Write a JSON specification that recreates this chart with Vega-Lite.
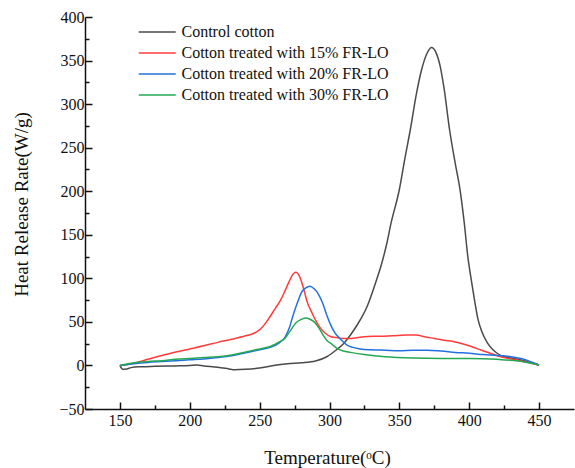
{
  "$schema": "https://vega.github.io/schema/vega-lite/v6.json",
  "width": 489,
  "height": 392,
  "autosize": "none",
  "padding": {"left": 85, "top": 17, "right": 1, "bottom": 59},
  "background": "white",
  "config": {"view": {"stroke": null}, "font": "Liberation Serif"},
  "data": {"values": [
    {"s":"Control cotton","t":150,"v":0},{"s":"Control cotton","t":152,"v":-4.5},{"s":"Control cotton","t":155,"v":-4},{"s":"Control cotton","t":158,"v":-2.5},{"s":"Control cotton","t":165,"v":-1.5},{"s":"Control cotton","t":175,"v":-1},{"s":"Control cotton","t":190,"v":-0.5},{"s":"Control cotton","t":200,"v":0},{"s":"Control cotton","t":205,"v":0.5},{"s":"Control cotton","t":210,"v":-0.5},{"s":"Control cotton","t":220,"v":-2},{"s":"Control cotton","t":228,"v":-4},{"s":"Control cotton","t":232,"v":-5},{"s":"Control cotton","t":240,"v":-4.5},{"s":"Control cotton","t":250,"v":-3},{"s":"Control cotton","t":260,"v":0},{"s":"Control cotton","t":270,"v":2},{"s":"Control cotton","t":280,"v":3},{"s":"Control cotton","t":290,"v":5},{"s":"Control cotton","t":298,"v":10},{"s":"Control cotton","t":305,"v":18},{"s":"Control cotton","t":310,"v":25},{"s":"Control cotton","t":315,"v":35},{"s":"Control cotton","t":320,"v":47},{"s":"Control cotton","t":327,"v":68},{"s":"Control cotton","t":333,"v":95},{"s":"Control cotton","t":337,"v":115},{"s":"Control cotton","t":341,"v":140},{"s":"Control cotton","t":344,"v":163},{"s":"Control cotton","t":350,"v":202},{"s":"Control cotton","t":354,"v":238},{"s":"Control cotton","t":358,"v":272},{"s":"Control cotton","t":362,"v":310},{"s":"Control cotton","t":366,"v":340},{"s":"Control cotton","t":370,"v":359},{"s":"Control cotton","t":373,"v":365},{"s":"Control cotton","t":376,"v":360},{"s":"Control cotton","t":379,"v":345},{"s":"Control cotton","t":382,"v":318},{"s":"Control cotton","t":386,"v":270},{"s":"Control cotton","t":390,"v":232},{"s":"Control cotton","t":393.5,"v":201},{"s":"Control cotton","t":396.5,"v":163},{"s":"Control cotton","t":399,"v":125},{"s":"Control cotton","t":401.5,"v":98},{"s":"Control cotton","t":404,"v":73},{"s":"Control cotton","t":406,"v":55},{"s":"Control cotton","t":409,"v":39},{"s":"Control cotton","t":413,"v":26},{"s":"Control cotton","t":417,"v":18},{"s":"Control cotton","t":420,"v":14},{"s":"Control cotton","t":425,"v":10},{"s":"Control cotton","t":430,"v":8.5},{"s":"Control cotton","t":435,"v":7},{"s":"Control cotton","t":440,"v":5},{"s":"Control cotton","t":445,"v":3},{"s":"Control cotton","t":450,"v":0.5},

    {"s":"Cotton treated with 15% FR-LO","t":150,"v":0},{"s":"Cotton treated with 15% FR-LO","t":155,"v":1},{"s":"Cotton treated with 15% FR-LO","t":160,"v":2.5},{"s":"Cotton treated with 15% FR-LO","t":170,"v":7},{"s":"Cotton treated with 15% FR-LO","t":180,"v":11.5},{"s":"Cotton treated with 15% FR-LO","t":190,"v":15.5},{"s":"Cotton treated with 15% FR-LO","t":200,"v":19},{"s":"Cotton treated with 15% FR-LO","t":210,"v":22.5},{"s":"Cotton treated with 15% FR-LO","t":220,"v":26.5},{"s":"Cotton treated with 15% FR-LO","t":230,"v":30},{"s":"Cotton treated with 15% FR-LO","t":240,"v":34},{"s":"Cotton treated with 15% FR-LO","t":246,"v":37},{"s":"Cotton treated with 15% FR-LO","t":250,"v":41},{"s":"Cotton treated with 15% FR-LO","t":253,"v":46},{"s":"Cotton treated with 15% FR-LO","t":257,"v":55},{"s":"Cotton treated with 15% FR-LO","t":261,"v":65},{"s":"Cotton treated with 15% FR-LO","t":265,"v":75},{"s":"Cotton treated with 15% FR-LO","t":268,"v":85},{"s":"Cotton treated with 15% FR-LO","t":271,"v":96},{"s":"Cotton treated with 15% FR-LO","t":274,"v":105},{"s":"Cotton treated with 15% FR-LO","t":276,"v":107},{"s":"Cotton treated with 15% FR-LO","t":278,"v":104},{"s":"Cotton treated with 15% FR-LO","t":280,"v":96},{"s":"Cotton treated with 15% FR-LO","t":282,"v":85},{"s":"Cotton treated with 15% FR-LO","t":284,"v":73},{"s":"Cotton treated with 15% FR-LO","t":287,"v":62},{"s":"Cotton treated with 15% FR-LO","t":290,"v":52},{"s":"Cotton treated with 15% FR-LO","t":293,"v":44},{"s":"Cotton treated with 15% FR-LO","t":297,"v":37},{"s":"Cotton treated with 15% FR-LO","t":301,"v":33},{"s":"Cotton treated with 15% FR-LO","t":305,"v":32},{"s":"Cotton treated with 15% FR-LO","t":310,"v":31},{"s":"Cotton treated with 15% FR-LO","t":315,"v":31},{"s":"Cotton treated with 15% FR-LO","t":325,"v":33},{"s":"Cotton treated with 15% FR-LO","t":335,"v":33.5},{"s":"Cotton treated with 15% FR-LO","t":345,"v":34},{"s":"Cotton treated with 15% FR-LO","t":355,"v":35},{"s":"Cotton treated with 15% FR-LO","t":362,"v":35},{"s":"Cotton treated with 15% FR-LO","t":368,"v":33},{"s":"Cotton treated with 15% FR-LO","t":375,"v":31},{"s":"Cotton treated with 15% FR-LO","t":382,"v":29},{"s":"Cotton treated with 15% FR-LO","t":390,"v":27},{"s":"Cotton treated with 15% FR-LO","t":395,"v":25},{"s":"Cotton treated with 15% FR-LO","t":401,"v":22},{"s":"Cotton treated with 15% FR-LO","t":408,"v":18},{"s":"Cotton treated with 15% FR-LO","t":415,"v":14},{"s":"Cotton treated with 15% FR-LO","t":425,"v":9},{"s":"Cotton treated with 15% FR-LO","t":435,"v":6},{"s":"Cotton treated with 15% FR-LO","t":442,"v":3.5},{"s":"Cotton treated with 15% FR-LO","t":450,"v":0},

    {"s":"Cotton treated with 20% FR-LO","t":150,"v":0},{"s":"Cotton treated with 20% FR-LO","t":160,"v":2},{"s":"Cotton treated with 20% FR-LO","t":170,"v":3.5},{"s":"Cotton treated with 20% FR-LO","t":180,"v":4.5},{"s":"Cotton treated with 20% FR-LO","t":190,"v":5.5},{"s":"Cotton treated with 20% FR-LO","t":200,"v":6.5},{"s":"Cotton treated with 20% FR-LO","t":210,"v":7.5},{"s":"Cotton treated with 20% FR-LO","t":220,"v":9},{"s":"Cotton treated with 20% FR-LO","t":230,"v":11},{"s":"Cotton treated with 20% FR-LO","t":240,"v":14.5},{"s":"Cotton treated with 20% FR-LO","t":250,"v":18},{"s":"Cotton treated with 20% FR-LO","t":258,"v":21},{"s":"Cotton treated with 20% FR-LO","t":264,"v":26},{"s":"Cotton treated with 20% FR-LO","t":268,"v":32},{"s":"Cotton treated with 20% FR-LO","t":271,"v":42},{"s":"Cotton treated with 20% FR-LO","t":274,"v":58},{"s":"Cotton treated with 20% FR-LO","t":277,"v":72},{"s":"Cotton treated with 20% FR-LO","t":280,"v":84},{"s":"Cotton treated with 20% FR-LO","t":283,"v":89},{"s":"Cotton treated with 20% FR-LO","t":286,"v":91},{"s":"Cotton treated with 20% FR-LO","t":289,"v":88},{"s":"Cotton treated with 20% FR-LO","t":292,"v":82},{"s":"Cotton treated with 20% FR-LO","t":295,"v":72},{"s":"Cotton treated with 20% FR-LO","t":298,"v":58},{"s":"Cotton treated with 20% FR-LO","t":301,"v":46},{"s":"Cotton treated with 20% FR-LO","t":304,"v":37},{"s":"Cotton treated with 20% FR-LO","t":308,"v":30},{"s":"Cotton treated with 20% FR-LO","t":312,"v":24},{"s":"Cotton treated with 20% FR-LO","t":316,"v":21},{"s":"Cotton treated with 20% FR-LO","t":322,"v":19},{"s":"Cotton treated with 20% FR-LO","t":330,"v":18},{"s":"Cotton treated with 20% FR-LO","t":340,"v":17.5},{"s":"Cotton treated with 20% FR-LO","t":350,"v":17},{"s":"Cotton treated with 20% FR-LO","t":360,"v":17.5},{"s":"Cotton treated with 20% FR-LO","t":370,"v":17.5},{"s":"Cotton treated with 20% FR-LO","t":380,"v":16.5},{"s":"Cotton treated with 20% FR-LO","t":390,"v":15},{"s":"Cotton treated with 20% FR-LO","t":400,"v":14},{"s":"Cotton treated with 20% FR-LO","t":410,"v":12.5},{"s":"Cotton treated with 20% FR-LO","t":420,"v":11.5},{"s":"Cotton treated with 20% FR-LO","t":430,"v":10},{"s":"Cotton treated with 20% FR-LO","t":437,"v":8},{"s":"Cotton treated with 20% FR-LO","t":443,"v":5},{"s":"Cotton treated with 20% FR-LO","t":450,"v":0.5},

    {"s":"Cotton treated with 30% FR-LO","t":150,"v":0},{"s":"Cotton treated with 30% FR-LO","t":160,"v":3},{"s":"Cotton treated with 30% FR-LO","t":170,"v":4.5},{"s":"Cotton treated with 30% FR-LO","t":180,"v":5.5},{"s":"Cotton treated with 30% FR-LO","t":190,"v":7},{"s":"Cotton treated with 30% FR-LO","t":200,"v":8},{"s":"Cotton treated with 30% FR-LO","t":210,"v":9},{"s":"Cotton treated with 30% FR-LO","t":220,"v":10},{"s":"Cotton treated with 30% FR-LO","t":230,"v":12},{"s":"Cotton treated with 30% FR-LO","t":240,"v":15.5},{"s":"Cotton treated with 30% FR-LO","t":250,"v":19},{"s":"Cotton treated with 30% FR-LO","t":258,"v":22},{"s":"Cotton treated with 30% FR-LO","t":264,"v":27},{"s":"Cotton treated with 30% FR-LO","t":268,"v":31},{"s":"Cotton treated with 30% FR-LO","t":272,"v":40},{"s":"Cotton treated with 30% FR-LO","t":276,"v":49},{"s":"Cotton treated with 30% FR-LO","t":280,"v":53},{"s":"Cotton treated with 30% FR-LO","t":283,"v":54.5},{"s":"Cotton treated with 30% FR-LO","t":286,"v":53},{"s":"Cotton treated with 30% FR-LO","t":289,"v":50},{"s":"Cotton treated with 30% FR-LO","t":292,"v":44},{"s":"Cotton treated with 30% FR-LO","t":295,"v":36},{"s":"Cotton treated with 30% FR-LO","t":298,"v":29},{"s":"Cotton treated with 30% FR-LO","t":302,"v":24},{"s":"Cotton treated with 30% FR-LO","t":306,"v":19},{"s":"Cotton treated with 30% FR-LO","t":310,"v":16.5},{"s":"Cotton treated with 30% FR-LO","t":315,"v":15},{"s":"Cotton treated with 30% FR-LO","t":325,"v":12.5},{"s":"Cotton treated with 30% FR-LO","t":340,"v":10},{"s":"Cotton treated with 30% FR-LO","t":360,"v":8.5},{"s":"Cotton treated with 30% FR-LO","t":380,"v":8},{"s":"Cotton treated with 30% FR-LO","t":400,"v":8},{"s":"Cotton treated with 30% FR-LO","t":420,"v":7},{"s":"Cotton treated with 30% FR-LO","t":435,"v":5},{"s":"Cotton treated with 30% FR-LO","t":450,"v":0.5}
  ]},
  "mark": {"type": "line", "strokeWidth": 1.5, "interpolate": "monotone"},
  "encoding": {
    "x": {
      "field": "t", "type": "quantitative",
      "scale": {"domain": [125, 475], "nice": false, "zero": false},
      "axis": {
        "title": "Temperature(ᵒC)",
        "titleFont": "Liberation Serif", "titleFontSize": 19, "titleFontWeight": "normal", "titleColor": "#111",
        "titleX": 242, "titleY": 54, "titleBaseline": "alphabetic",
        "values": [150,175,200,225,250,275,300,325,350,375,400,425,450],
        "labelExpr": "datum.value % 50 === 0 ? datum.label : ''",
        "labelFont": "Liberation Serif", "labelFontSize": 16, "labelColor": "#111",
        "labelPadding": 10,
        "tickSize": -7,
        "tickDash": {"condition": {"test": "datum.value % 50 !== 0", "value": [4, 10]}, "value": [10, 0]},
        "tickColor": "#111", "tickWidth": 1.5,
        "domainColor": "#111", "domainWidth": 1.5,
        "grid": false, "labelFlush": false
      }
    },
    "y": {
      "field": "v", "type": "quantitative",
      "scale": {"domain": [-50, 400], "nice": false},
      "axis": {
        "title": "Heat Release Rate(W/g)",
        "titleFont": "Liberation Serif", "titleFontSize": 19, "titleFontWeight": "normal", "titleColor": "#111",
        "titleX": -64, "titleY": 187, "titleBaseline": "middle", "titleAngle": -90,
        "values": [-50,-25,0,25,50,75,100,125,150,175,200,225,250,275,300,325,350,375,400],
        "labelExpr": "datum.value % 50 === 0 ? datum.label : ''",
        "labelFont": "Liberation Serif", "labelFontSize": 16, "labelColor": "#111",
        "labelPadding": 8,
        "tickSize": -7,
        "tickDash": {"condition": {"test": "datum.value % 50 !== 0", "value": [4, 10]}, "value": [10, 0]},
        "tickColor": "#111", "tickWidth": 1.5,
        "domainColor": "#111", "domainWidth": 1.5,
        "grid": false, "labelFlush": false
      }
    },
    "color": {
      "field": "s", "type": "nominal",
      "scale": {
        "domain": ["Control cotton","Cotton treated with 15% FR-LO","Cotton treated with 20% FR-LO","Cotton treated with 30% FR-LO"],
        "range": ["#4a4a4a","#ff3b3b","#2370e0","#25a854"]
      },
      "legend": {
        "title": null, "orient": "none", "legendX": 53, "legendY": 5,
        "symbolType": "M-1,0H3", "symbolSize": 342, "symbolStrokeWidth": 1.5,
        "labelFont": "Liberation Serif", "labelFontSize": 16, "labelColor": "#111",
        "labelOffset": 23.5, "padding": 0, "rowPadding": 3, "labelLimit": 400
      }
    }
  }
}
